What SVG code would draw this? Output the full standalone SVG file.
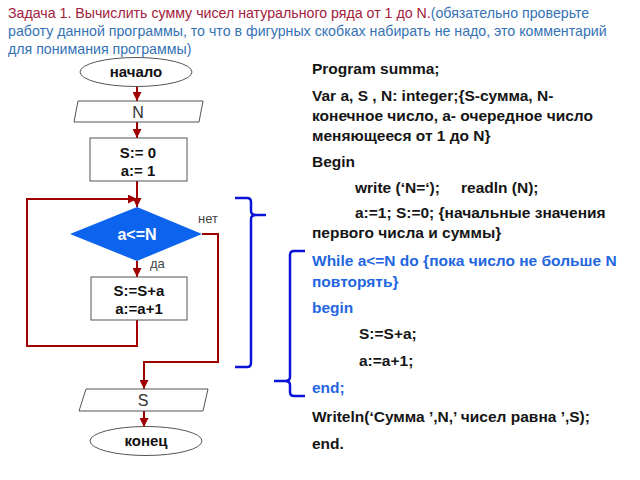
<svg xmlns="http://www.w3.org/2000/svg" width="640" height="480" viewBox="0 0 640 480">
<defs>
<style>
.shape{fill:#fff;stroke:#555;stroke-width:1}
.conn{fill:none;stroke:#a00000;stroke-width:2}
.br{fill:none;stroke:#0a14d8;stroke-width:2.5}
.lbl{font-family:"Liberation Sans",Arial,sans-serif;font-size:15px;font-weight:bold;fill:#111;text-anchor:middle}
.lbn{font-family:"Liberation Sans",Arial,sans-serif;font-size:16px;fill:#333;text-anchor:middle}
.sm{font-family:"Liberation Sans",Arial,sans-serif;font-size:13px;fill:#444}
.code{font-family:"Liberation Sans",Arial,sans-serif;font-size:15.5px;font-weight:bold;fill:#151515}
.codeb{fill:#1f66e0}
.title{font-family:"Liberation Sans",Arial,sans-serif;font-size:14.2px}
</style>
<marker id="ah" viewBox="0 0 10 10" refX="10" refY="5" markerWidth="9" markerHeight="9" markerUnits="userSpaceOnUse" orient="auto">
<path d="M0,0 L10,5 L0,10 z" fill="#a00000"/>
</marker>
</defs>
<rect width="640" height="480" fill="#fff"/>

<g id="title" class="title">
<text x="8" y="18"><tspan fill="#a3213c">Задача 1. Вычислить сумму чисел натурального ряда от 1 до N.</tspan><tspan fill="#3572b5">(обязательно проверьте</tspan></text>
<text x="8" y="36" fill="#3572b5">работу данной программы, то что в фигурных скобках набирать не надо, это комментарий</text>
<text x="8" y="54" fill="#3572b5">для понимания программы)</text>
</g>

<g id="connectors">
<path class="conn" d="M137,87 V101" marker-end="url(#ah)"/>
<path class="conn" d="M137,122 V138" marker-end="url(#ah)"/>
<path class="conn" d="M137,181 V207" marker-end="url(#ah)"/>
<path class="conn" d="M137,320 V346 H27 V199 H137" marker-end="url(#ah)"/>
<path class="conn" d="M137,261 V277" marker-end="url(#ah)"/>
<path class="conn" d="M202,234 H218 V362 H144 V389" marker-end="url(#ah)"/>
<path class="conn" d="M144,411 V427" marker-end="url(#ah)"/>
</g>

<g id="start">
<ellipse class="shape" cx="136" cy="72" rx="56" ry="14.5"/>
<text class="lbl" x="136" y="77">начало</text>
</g>
<g id="inputN">
<polygon class="shape" points="78,101 203,101 199,122 74,122"/>
<text class="lbn" x="138" y="118">N</text>
</g>
<g id="init">
<rect class="shape" x="90" y="138" width="97" height="43"/>
<text class="lbl" x="138" y="158">S:= 0</text>
<text class="lbl" x="138" y="176">a:= 1</text>
</g>
<g id="cond">
<polygon points="137,207 202,234 137,261 70,234" fill="#0c64ee"/>
<text x="137" y="240" font-family="Liberation Sans,Arial,sans-serif" font-size="16" font-weight="bold" fill="#fff" text-anchor="middle">a&lt;=N</text>
<text class="sm" x="198" y="223">нет</text>
<text class="sm" x="150" y="268">да</text>
</g>
<g id="body">
<rect class="shape" x="91" y="277" width="96" height="43"/>
<text class="lbl" x="139" y="296">S:=S+a</text>
<text class="lbl" x="139" y="314">a:=a+1</text>
</g>
<g id="outputS">
<polygon class="shape" points="86,389 208,389 203,411 79,411" />
<text class="lbn" x="143" y="406">S</text>
</g>
<g id="end">
<ellipse class="shape" cx="146" cy="441" rx="56" ry="14.5"/>
<text class="lbl" x="146" y="446">конец</text>
</g>

<g id="brackets">
<path class="br" d="M235,198 H247 Q251,198 251,202 V211 Q251,215 256,215 H266 M256,215 Q251,215 251,219 V363 Q251,367 247,367 H235"/>
<path class="br" d="M305,251 H294 Q290,251 290,255 V377 Q290,381 285,381 H274 M285,381 Q290,381 290,385 V392 Q290,396 294,396 H305"/>
</g>

<g id="code" class="code">
<text x="312" y="74">Program summa;</text>
<text x="312" y="101">Var a, S , N: integer;{S-сумма, N-</text>
<text x="312" y="121">конечное число, а- очередное число</text>
<text x="312" y="141">меняющееся от 1 до N}</text>
<text x="312" y="167">Begin</text>
<text x="355" y="193">write (‘N=‘);</text>
<text x="461" y="193">readln (N);</text>
<text x="355" y="218">a:=1; S:=0; {начальные значения</text>
<text x="312" y="238">первого числа и суммы}</text>
<text x="312" y="266" class="codeb">While a&lt;=N do {пока число не больше N</text>
<text x="312" y="287" class="codeb">повторять}</text>
<text x="312" y="313" class="codeb">begin</text>
<text x="359" y="339">S:=S+a;</text>
<text x="359" y="366">a:=a+1;</text>
<text x="312" y="393" class="codeb">end;</text>
<text x="312" y="422">Writeln(‘Сумма ’,N,’ чисел равна ’,S);</text>
<text x="312" y="449">end.</text>
</g>
</svg>
